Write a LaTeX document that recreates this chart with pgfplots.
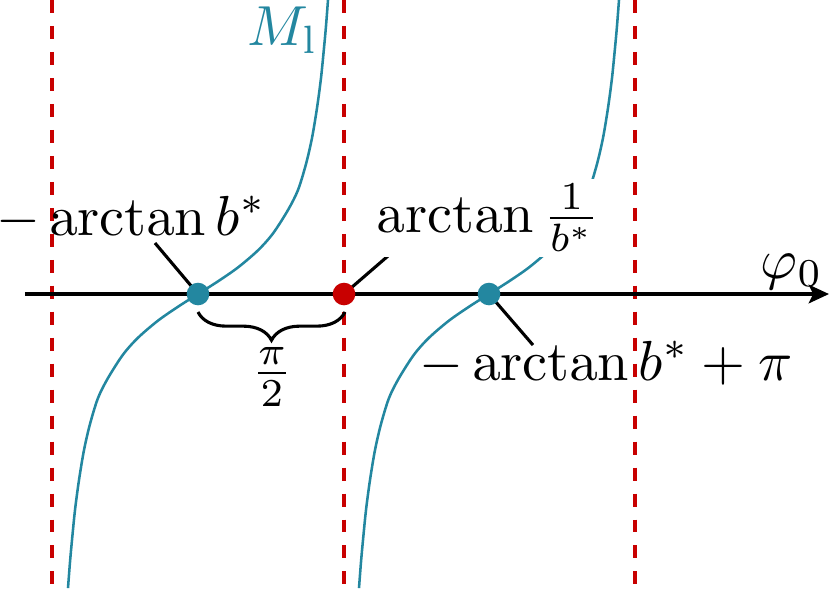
\documentclass[border=0pt]{standalone}
\usepackage{pgfplots}
\pgfplotsset{compat=1.18}
\usetikzlibrary{arrows.meta,decorations.pathreplacing}
\definecolor{tealc}{RGB}{35,135,160}
\definecolor{redc}{RGB}{200,0,0}
\begin{document}
\begin{tikzpicture}
\begin{axis}[scale only axis, width=147pt, height=104.32pt,
  xmin=0, xmax=830, ymin=0, ymax=589, axis lines=none, clip=false]
% asymptotes
\addplot[redc, line width=0.55pt, dash pattern=on 2.3pt off 2.3pt] coordinates {(52,589) (52,0)};
\addplot[redc, line width=0.55pt, dash pattern=on 2.3pt off 2.3pt] coordinates {(344,589) (344,0)};
\addplot[redc, line width=0.55pt, dash pattern=on 2.3pt off 2.3pt] coordinates {(635,589) (635,0)};
% phi axis
\addplot[black, line width=0.6pt, -{Stealth[length=3.6pt,width=3.3pt,inset=0.8pt]}] coordinates {(25,295) (829,295)};
% curves
\addplot[tealc, line width=0.45pt, smooth] coordinates {
(68,1) (70,27) (72,49) (75,79) (79,109) (84,139) (90,165) (98,191) (108,211) (123,234.4)
(138,251.3) (158,268.4) (178,282.3) (198,295)
(218,307.7) (238,321.6) (258,338.7) (273,355.6) (288,379) (298,399) (306,425) (312,451)
(317,481) (321,511) (324,541) (326,563) (328,589)};
\addplot[tealc, line width=0.45pt, smooth] coordinates {
(359,1) (361,27) (363,49) (366,79) (370,109) (375,139) (381,165) (389,191) (399,211) (414,234.4)
(429,251.3) (449,268.4) (469,282.3) (489,295)
(509,307.7) (529,321.6) (549,338.7) (564,355.6) (579,379) (589,399) (597,425) (603,451)
(608,481) (612,511) (615,541) (617,563) (619,589)};
% leaders
\addplot[black, line width=0.55pt] coordinates {(155,346) (198,295)};
\addplot[black, line width=0.55pt] coordinates {(344,295) (403,346)};
\addplot[black, line width=0.55pt] coordinates {(489,295) (533,244)};
% brace
\draw[black, line width=0.55pt, decorate, decoration={brace, mirror, amplitude=5pt}] (axis cs:198,277) -- (axis cs:345,277);
\node[inner sep=0pt, anchor=center] at (axis cs:272,212) {$\frac{\pi}{2}$};
% dots
\addplot[only marks, mark=*, mark size=1.8pt, color=tealc] coordinates {(198,295) (489,295)};
\addplot[only marks, mark=*, mark size=1.8pt, color=redc] coordinates {(344,295)};
% labels
\node[inner sep=0pt, anchor=base west] at (axis cs:-5,354) {$-\arctan b^*$};
\node[inner sep=1pt, fill=white, anchor=base west] at (axis cs:370,357) {$\arctan \frac{1}{b^*}$};
\node[inner sep=0pt, anchor=base west] at (axis cs:418,209) {$-\arctan b^* + \pi$};
\node[inner sep=0pt, anchor=base east, text=tealc] at (axis cs:319,544) {$M_\mathrm{l}$};
\node[inner sep=0pt, anchor=base east] at (axis cs:824,311) {$\varphi_0$};
\end{axis}
\pgfresetboundingbox
\useasboundingbox (current axis.south west) rectangle (current axis.north east);
\end{tikzpicture}
\end{document}
